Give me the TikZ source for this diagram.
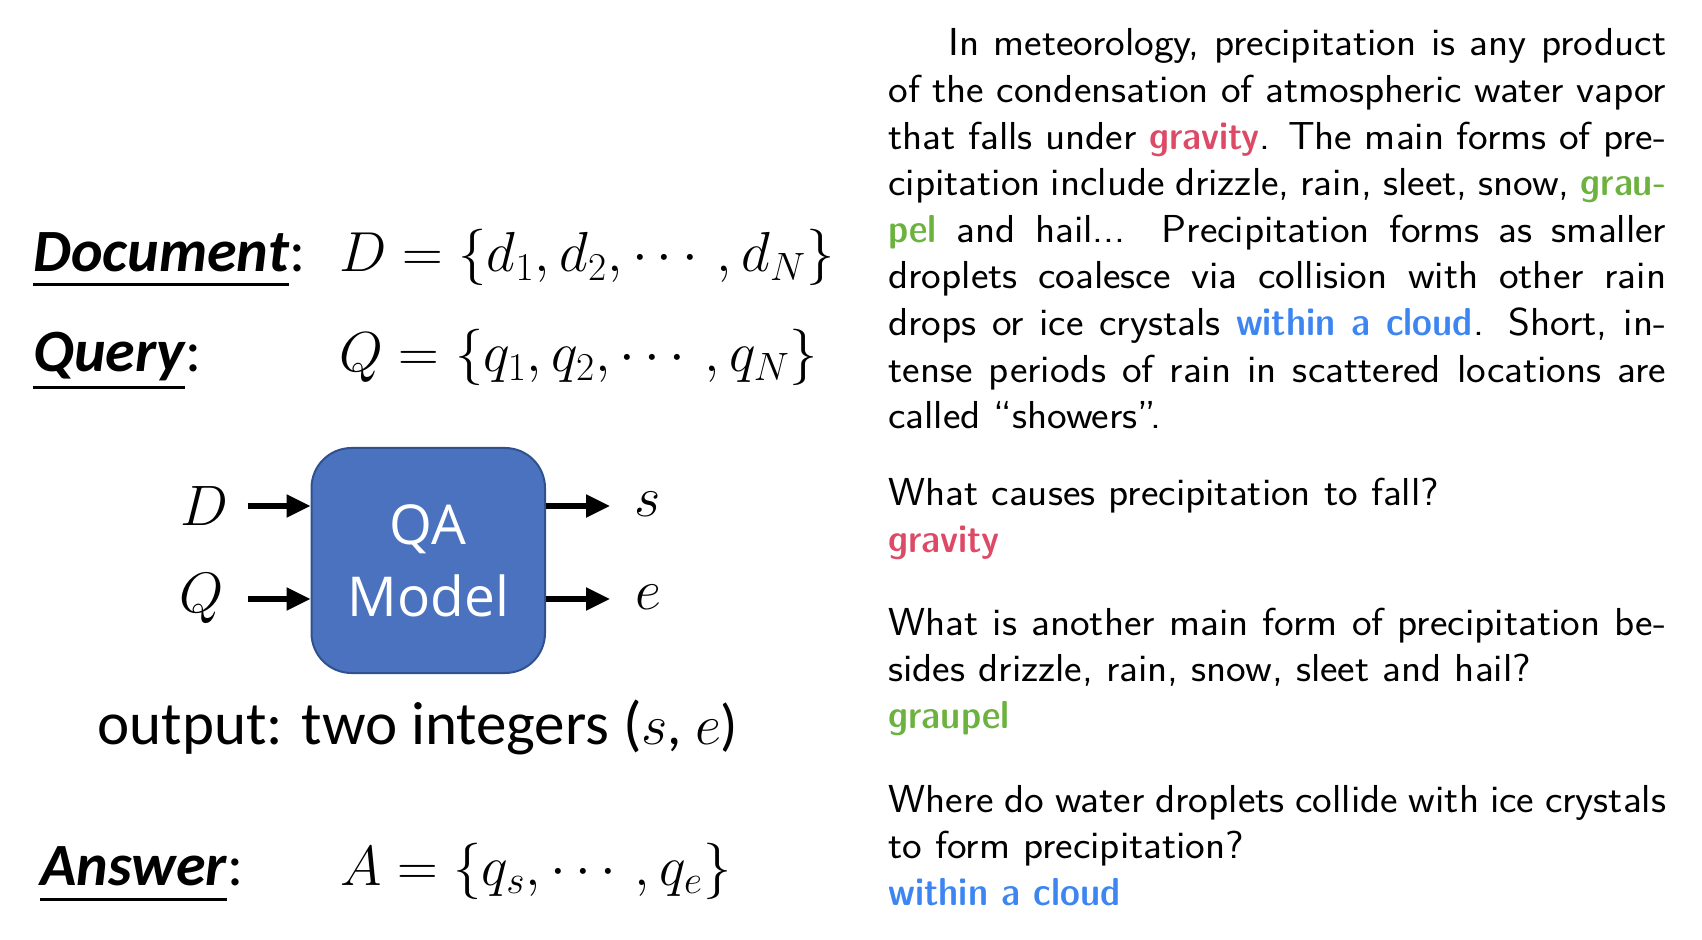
\RequirePackage{fix-cm}
\documentclass[tikz,border=0pt]{standalone}
\usepackage{fontspec}
\usepackage{amsmath}
\usepackage{graphicx}
\usetikzlibrary{arrows.meta}
\newfontfamily\calib{Carlito}
\newfontfamily\osans{Open Sans}
\newfontfamily\sdc{lmsansdemicond10-regular.otf}
\definecolor{boxblue}{HTML}{4A72BF}
\definecolor{boxedge}{HTML}{2F528F}
\definecolor{gred}{HTML}{DC4A66}
\definecolor{ggreen}{HTML}{6CB23F}
\definecolor{gblue}{HTML}{3D86F2}
\newcommand\hlr[1]{\textcolor{gred}{\sdc #1}}
\newcommand\hlg[1]{\textcolor{ggreen}{\sdc #1}}
\newcommand\hlb[1]{\textcolor{gblue}{\sdc #1}}
\newcommand\sfblock[1]{\scalebox{1.07}[1]{\parbox[t]{363.5pt}{#1}}}
\begin{document}
\begin{tikzpicture}[x=0.5pt,y=-0.5pt,
  lab/.style={inner sep=0pt, anchor=base west, font=\calib\fontsize{30}{36}\selectfont\bfseries\itshape},
  colon/.style={inner sep=0pt, anchor=base west, font=\calib\fontsize{30}{36}\selectfont},
  formula/.style={inner sep=0pt, anchor=base west, font=\fontsize{28.2}{34}\selectfont},
  uline/.style={line width=1.5pt},
  qabox/.style={fill=boxblue, draw=boxedge, line width=1pt, rounded corners=20pt,
     minimum width=116.75pt, minimum height=112.5pt, text=white, align=center,
     font=\osans\fontsize{27.5}{36}\selectfont},
  io/.style={inner sep=0pt, font=\fontsize{28.5}{34}\selectfont},
  arr/.style={line width=2.7pt, -{Triangle[length=12pt,width=11pt]}},
  para/.style={inner sep=0pt, anchor=base west, font=\sffamily\fontsize{19.5}{23.3}\selectfont}
]
\useasboundingbox (0,0) rectangle (1702,940);

% left: definitions
\node[lab] (docw) at (33,272) {Document};
\node[colon] (docc) at (docw.base east) {:};
\draw[uline] ([yshift=-6.5pt]docw.base west) -- ([yshift=-6.5pt]docw.base east);
\node[formula] (docf) at (339,272) {$D=\{d_1,d_2,\cdots,d_N\}$};

\node[lab] (qw) at (33,372) {Query};
\node[colon] (qc) at (qw.base east) {:};
\draw[uline] ([yshift=-8pt]qw.base west) -- ([yshift=-8pt]qw.base east);
\node[formula] (qf) at (339,372) {$Q=\{q_1,q_2,\cdots,q_N\}$};

% QA model
\node[qabox] (qa) at (428.25,560.5) {QA\\Model};
\node[io] (D) at (204,506) {$D$};
\node[io] (Q) at (202,599) {$Q$};
\node[io] (s) at (648,504) {$s$};
\node[io] (e) at (648,597) {$e$};
\coordinate (din) at (247.5,506);
\coordinate (qin) at (247.5,599);
\coordinate (sout) at (610,506);
\coordinate (eout) at (610,599);
\draw[arr] (din) -- (qa.west |- din);
\draw[arr] (qin) -- (qa.west |- qin);
\draw[arr] (qa.east |- sout) -- (sout);
\draw[arr] (qa.east |- eout) -- (eout);

\node[inner sep=0pt, anchor=base, font=\calib\fontsize{30.5}{36}\selectfont] (out) at (418,744)
  {output: two integers (\fontsize{28.5}{34}\selectfont$s$, $e$)};

\node[lab] (aw) at (40,885) {Answer};
\node[colon] (ac) at (aw.base east) {:};
\draw[uline] ([yshift=-7pt]aw.base west) -- ([yshift=-7pt]aw.base east);
\node[formula] (af) at (340,885) {$A=\{q_s,\cdots,q_e\}$};

% right: passage and questions
\node[para] (passage) at (888,56) {\sfblock{\hspace*{28pt}In meteorology, precipitation is any product\linebreak
of the condensation of atmospheric water vapor\linebreak
that falls under \hlr{gravity}. The main forms of pre-\linebreak
cipitation include drizzle, rain, sleet, snow, \hlg{grau-}\linebreak
\hlg{pel} and hail... Precipitation forms as smaller\linebreak
droplets coalesce via collision with other rain\linebreak
drops or ice crystals \hlb{within a cloud}. Short, in-\linebreak
tense periods of rain in scattered locations are\linebreak
called “showers”.}};

\node[para] (q1) at (888,506) {\sfblock{What causes precipitation to fall?\\
\hlr{gravity}}};
\node[para] (q2) at (888,635) {\sfblock{What is another main form of precipitation be-\linebreak
sides drizzle, rain, snow, sleet and hail?\\
\hlg{graupel}}};
\node[para] (q3) at (888,812) {\sfblock{Where do water droplets collide with ice crystals\linebreak
to form precipitation?\\
\hlb{within a cloud}}};
\end{tikzpicture}
\end{document}
